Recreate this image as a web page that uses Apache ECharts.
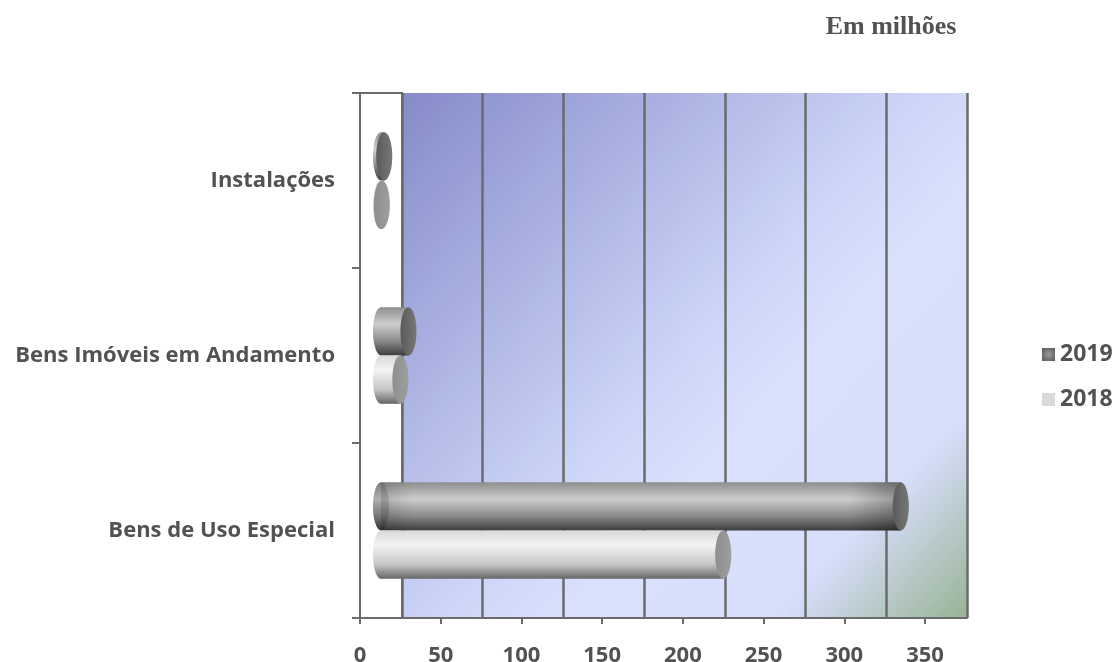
<!DOCTYPE html>
<html lang="pt">
<head>
<meta charset="utf-8">
<title>Em milhões</title>
<style>html,body{margin:0;padding:0;background:#fff;}</style>
</head>
<body>
<div id="main" style="width:1117px;height:662px;"></div>
<script src="https://cdn.jsdelivr.net/npm/echarts@6/dist/echarts.min.js"></script>
<script>
var categories = ['Bens de Uso Especial', 'Bens Imóveis em Andamento', 'Instalações'];
var values2019 = [322, 17, 2];
var values2018 = [212, 12, 0.5];
var xTicks = [0, 50, 100, 150, 200, 250, 300, 350];

var chart = echarts.init(document.getElementById('main'));
var txt = '#525252';
var fontCat = 'Open Sans';

// cilindro de cada barra
function cylinder(upper, bodyStops, capStops, shade) {
    return function (params, api) {
        var cat = api.value(1), val = api.value(0);
        var p0 = api.coord([0, cat]);
        var p1 = api.coord([val, cat]);
        var band = api.size([0, 1])[1];
        var h = band * 0.276;
        var y = upper ? p0[1] - h : p0[1];
        var rx = h / 6;
        var len = Math.max(p1[0] - p0[0], 0);
        var body = new echarts.graphic.LinearGradient(0, 0, 0, 1, bodyStops);
        var kids = [
            { type: 'ellipse', shape: { cx: p0[0], cy: y + h / 2, rx: rx, ry: h / 2 }, style: { fill: body } },
            { type: 'rect', shape: { x: p0[0], y: y, width: len, height: h }, style: { fill: body } }
        ];
        if (shade && len > 40) {
            kids.push({ type: 'ellipse', shape: { cx: p0[0], cy: y + h / 2, rx: rx, ry: h / 2 },
                style: { fill: 'rgba(0,0,0,0.14)' } });
            kids.push({ type: 'rect', shape: { x: p0[0], y: y, width: len, height: h },
                style: { fill: new echarts.graphic.LinearGradient(0, 0, 1, 0, [
                    { offset: 0, color: 'rgba(0,0,0,0.14)' }, { offset: 0.06, color: 'rgba(0,0,0,0)' },
                    { offset: 0.9, color: 'rgba(0,0,0,0)' }, { offset: 1, color: 'rgba(0,0,0,0.28)' }]) } });
        }
        kids.push({ type: 'ellipse', shape: { cx: p1[0], cy: y + h / 2, rx: rx, ry: h / 2 },
            style: { fill: new echarts.graphic.LinearGradient(0, 0, 1, 0, capStops) } });
        return { type: 'group', children: kids };
    };
}

chart.setOption({
    animation: false,
    title: {
        text: 'Em milhões', left: 886, top: 9, textAlign: 'center',
        textStyle: { fontFamily: 'Liberation Serif', fontWeight: 'bold', fontSize: 26, color: txt }
    },
    legend: {
        orient: 'vertical', left: 1037, top: 338, itemGap: 22, itemWidth: 13, itemHeight: 13,
        icon: 'rect',
        textStyle: { fontFamily: fontCat, fontWeight: 'bold', fontSize: 23, color: txt },
        data: [
            { name: '2019', itemStyle: { color: new echarts.graphic.RadialGradient(0.5, 0.5, 0.7, [
                { offset: 0, color: '#9a9a9a' }, { offset: 1, color: '#555' }]) } },
            { name: '2018', itemStyle: { color: '#dadada' } }
        ]
    },
    grid: [
        // parede do fundo
        { left: 402, right: 150, top: 93, bottom: 44, outerBoundsMode: 'none', show: true, borderWidth: 0,
          backgroundColor: new echarts.graphic.LinearGradient(0, 0, 1, 1, [
              { offset: 0, color: '#868bc9' },
              { offset: 0.5, color: '#cdd6f8' },
              { offset: 0.62, color: '#d9e1fc' },
              { offset: 0.82, color: '#d6defa' },
              { offset: 1, color: '#98b394' }]) },
        // parede lateral
        { left: 360, width: 42, top: 93, bottom: 44, outerBoundsMode: 'none', show: true, borderWidth: 2, borderColor: '#6b6b6b', backgroundColor: '#fff' },
        // eixo da frente
        { left: 360, right: 192, top: 93, bottom: 44, outerBoundsMode: 'none' },
        // barras
        { left: 381, right: 171, top: 93, bottom: 44, outerBoundsMode: 'none' }
    ],
    xAxis: [
        { gridIndex: 0, type: 'value', min: 0, max: 350, interval: 50,
          axisLabel: { show: false }, axisTick: { show: false },
          axisLine: { show: true, lineStyle: { color: '#6b6b6b', width: 2 } },
          splitLine: { show: true, lineStyle: { color: '#6b6b6b', width: 2.5 } } },
        { gridIndex: 1, type: 'value', show: false },
        { gridIndex: 2, type: 'value', min: 0, max: 350, interval: 50,
          axisLine: { show: true, lineStyle: { color: '#6b6b6b', width: 2 } },
          axisTick: { show: true, length: 6, lineStyle: { color: '#6b6b6b', width: 2 } },
          splitLine: { show: false },
          axisLabel: { margin: 27, fontFamily: fontCat, fontWeight: 'bold', fontSize: 22, color: txt,
              customValues: xTicks } },
        { gridIndex: 3, type: 'value', min: 0, max: 350, show: false }
    ],
    yAxis: [
        { gridIndex: 0, type: 'category', data: categories, show: false },
        { gridIndex: 1, type: 'category', data: categories, show: false },
        { gridIndex: 2, type: 'category', data: categories,
          axisLine: { show: true, lineStyle: { color: '#6b6b6b', width: 2 } },
          axisTick: { show: true, length: 8, lineStyle: { color: '#6b6b6b', width: 2 } },
          axisLabel: { margin: 25, fontFamily: fontCat, fontWeight: 'bold', fontSize: 22, color: txt,
              padding: [5, 0, 0, 0] } },
        { gridIndex: 3, type: 'category', data: categories, show: false }
    ],
    series: [
        { name: '2019', type: 'custom', xAxisIndex: 3, yAxisIndex: 3,
          encode: { x: 0, y: 1 },
          data: values2019.map(function (v, i) { return [v, i]; }),
          renderItem: cylinder(true, [
              { offset: 0, color: '#8e8e8e' }, { offset: 0.35, color: '#cdcdcd' },
              { offset: 0.7, color: '#8a8a8a' }, { offset: 1, color: '#3c3c3c' }],
              [{ offset: 0, color: '#5a5a5a' }, { offset: 1, color: '#777' }], true) },
        { name: '2018', type: 'custom', xAxisIndex: 3, yAxisIndex: 3,
          encode: { x: 0, y: 1 },
          data: values2018.map(function (v, i) { return [v, i]; }),
          renderItem: cylinder(false, [
              { offset: 0, color: '#d8d8d8' }, { offset: 0.3, color: '#f4f4f4' },
              { offset: 0.7, color: '#c6c6c6' }, { offset: 1, color: '#666' }],
              [{ offset: 0, color: '#8e8e8e' }, { offset: 1, color: '#9e9e9e' }], false) }
    ]
});
</script>
</body>
</html>
